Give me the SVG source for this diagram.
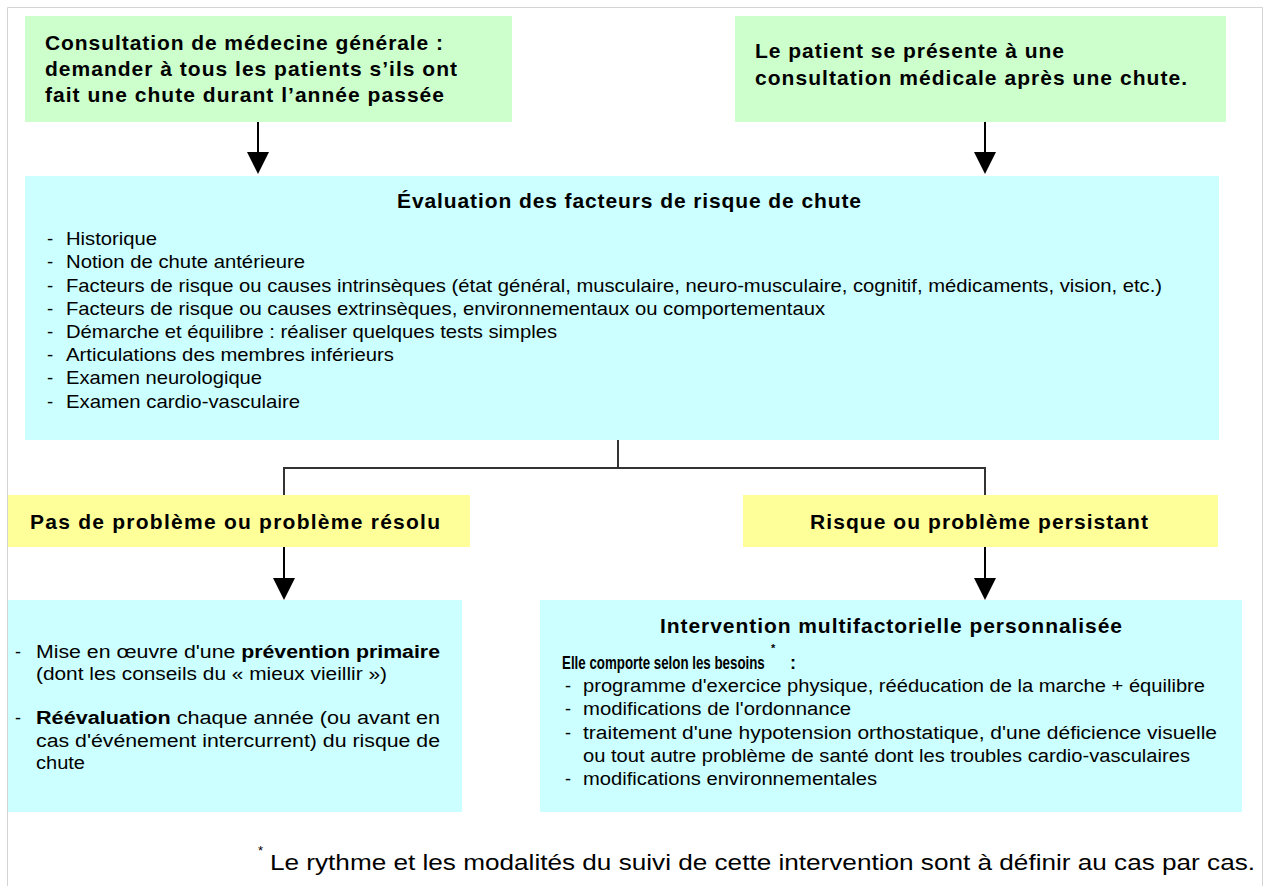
<svg xmlns="http://www.w3.org/2000/svg" width="1264" height="886" viewBox="0 0 1264 886">
<defs>
<style>
.green{fill:#CCFFCC}
.cyan{fill:#CCFFFF}
.yellow{fill:#FFFF99}
text{font-family:"Liberation Sans",Arial,sans-serif;fill:#000}
.h{font-size:21px;font-weight:bold}
.t{font-size:18.5px}
.s{font-size:18px}
.b{font-weight:bold}
.conn{stroke:#333;stroke-width:2;fill:none}
.arr{stroke:#000;stroke-width:2;fill:none}
.head{fill:#000}
</style>
</defs>
<rect x="0" y="0" width="1264" height="886" fill="#fff"/>
<path d="M7.5,886 V7.5 H1262.5 V886" fill="none" stroke="#d4d4d4" stroke-width="1"/>

<g id="node-consultation-generale">
<rect class="green" x="25" y="16" width="487" height="106"/>
<text class="h" x="45" y="50" textLength="398">Consultation de médecine générale :</text>
<text class="h" x="45" y="76" textLength="412">demander à tous les patients s’ils ont</text>
<text class="h" x="45" y="102" textLength="399">fait une chute durant l’année passée</text>
</g>

<g id="node-patient-chute">
<rect class="green" x="735" y="16" width="491" height="106"/>
<text class="h" x="755" y="58" textLength="309">Le patient se présente à une</text>
<text class="h" x="755" y="85" textLength="432">consultation médicale après une chute.</text>
</g>

<g id="node-evaluation">
<rect class="cyan" x="25" y="176" width="1194" height="264"/>
<text class="h" x="397" y="208" textLength="464">Évaluation des facteurs de risque de chute</text>
<g class="t">
<text x="47" y="245">-</text><text x="66" y="245" textLength="91" lengthAdjust="spacingAndGlyphs">Historique</text>
<text x="47" y="268">-</text><text x="66" y="268" textLength="239" lengthAdjust="spacingAndGlyphs">Notion de chute antérieure</text>
<text x="47" y="292">-</text><text x="66" y="292" textLength="1096" lengthAdjust="spacingAndGlyphs">Facteurs de risque ou causes intrinsèques (état général, musculaire, neuro-musculaire, cognitif, médicaments, vision, etc.)</text>
<text x="47" y="315">-</text><text x="66" y="315" textLength="759" lengthAdjust="spacingAndGlyphs">Facteurs de risque ou causes extrinsèques, environnementaux ou comportementaux</text>
<text x="47" y="338">-</text><text x="66" y="338" textLength="491" lengthAdjust="spacingAndGlyphs">Démarche et équilibre : réaliser quelques tests simples</text>
<text x="47" y="361">-</text><text x="66" y="361" textLength="328" lengthAdjust="spacingAndGlyphs">Articulations des membres inférieurs</text>
<text x="47" y="384">-</text><text x="66" y="384" textLength="196" lengthAdjust="spacingAndGlyphs">Examen neurologique</text>
<text x="47" y="408">-</text><text x="66" y="408" textLength="234" lengthAdjust="spacingAndGlyphs">Examen cardio-vasculaire</text>
</g>
</g>

<g id="node-pas-de-probleme">
<rect class="yellow" x="8" y="495" width="462" height="52"/>
<text class="h" x="30" y="529" textLength="410">Pas de problème ou problème résolu</text>
</g>

<g id="node-risque-persistant">
<rect class="yellow" x="743" y="495" width="475" height="52"/>
<text class="h" x="810" y="529" textLength="338">Risque ou problème persistant</text>
</g>

<g id="node-prevention">
<rect class="cyan" x="8" y="600" width="454" height="212"/>
<g class="s">
<text x="15" y="658">-</text>
<text x="36" y="658" textLength="404" lengthAdjust="spacingAndGlyphs">Mise en œuvre d'une <tspan class="b">prévention primaire</tspan></text>
<text x="36" y="680" textLength="351" lengthAdjust="spacingAndGlyphs">(dont les conseils du  « mieux vieillir »)</text>
<text x="15" y="724">-</text>
<text x="36" y="724" textLength="404" lengthAdjust="spacingAndGlyphs"><tspan class="b">Réévaluation</tspan> chaque année (ou avant en</text>
<text x="36" y="747" textLength="404" lengthAdjust="spacingAndGlyphs">cas d'événement intercurrent) du risque de</text>
<text x="36" y="769" textLength="49" lengthAdjust="spacingAndGlyphs">chute</text>
</g>
</g>

<g id="node-intervention">
<rect class="cyan" x="540" y="600" width="702" height="212"/>
<text class="h" x="660" y="633" textLength="462">Intervention multifactorielle personnalisée</text>
<text class="b" transform="translate(562,669) scale(0.74,1)" x="0" y="0" font-size="18">Elle comporte selon les besoins</text>
<text class="b" x="771" y="652" font-size="11">*</text>
<text class="b" x="790" y="669" font-size="18">:</text>
<g class="s">
<text x="565" y="692">-</text><text x="583" y="692" textLength="622" lengthAdjust="spacingAndGlyphs">programme d'exercice physique, rééducation de la marche + équilibre</text>
<text x="565" y="715">-</text><text x="583" y="715" textLength="268" lengthAdjust="spacingAndGlyphs">modifications de l'ordonnance</text>
<text x="565" y="739">-</text><text x="583" y="739" textLength="634" lengthAdjust="spacingAndGlyphs">traitement d'une hypotension orthostatique, d'une déficience visuelle</text>
<text x="583" y="762" textLength="607" lengthAdjust="spacingAndGlyphs">ou tout autre problème de santé dont les troubles cardio-vasculaires</text>
<text x="565" y="785">-</text><text x="583" y="785" textLength="294" lengthAdjust="spacingAndGlyphs">modifications environnementales</text>
</g>
</g>

<g id="footnote">
<text x="258" y="855" font-size="13">*</text>
<text x="270" y="870" font-size="22" textLength="985" lengthAdjust="spacingAndGlyphs">Le rythme et les modalités du suivi de cette intervention sont à définir au cas par cas.</text>
</g>

<g id="connectors">
<line class="arr" x1="258" y1="122" x2="258" y2="154"/>
<polygon class="head" points="247,152 269,152 258,174"/>
<line class="arr" x1="985" y1="122" x2="985" y2="154"/>
<polygon class="head" points="974,152 996,152 985,174"/>
<path class="conn" d="M618,440 V468 M284,495 V468 H985 V495"/>
<line class="arr" x1="284" y1="547" x2="284" y2="580"/>
<polygon class="head" points="273,578 295,578 284,600"/>
<line class="arr" x1="985" y1="547" x2="985" y2="580"/>
<polygon class="head" points="974,578 996,578 985,600"/>
</g>
</svg>
